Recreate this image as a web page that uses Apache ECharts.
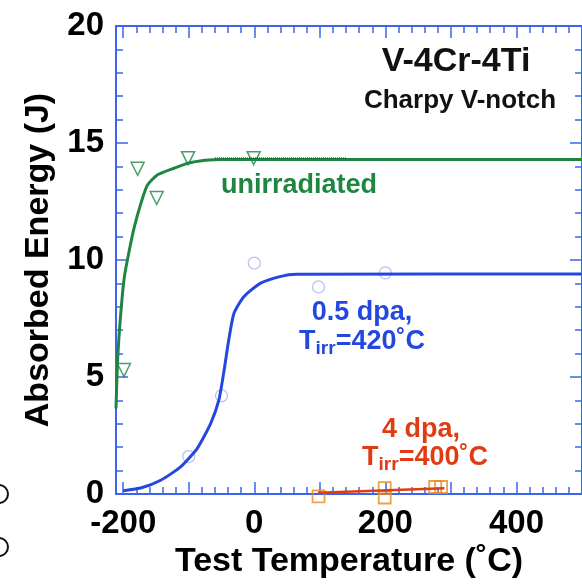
<!DOCTYPE html>
<html>
<head>
<meta charset="utf-8">
<script src="https://cdn.jsdelivr.net/npm/echarts@6/dist/echarts.min.js"></script>
<style>
  html, body { margin: 0; padding: 0; background: #fff; }
  #chart { width: 582px; height: 584px; }
</style>
</head>
<body>
<div id="chart"></div>
<script>
// unirradiated: fitted curve + measured points
const unirrCurve = [
  [-211, 3.66], [-208.3, 5.87], [-203.3, 7.86], [-198.2, 9.29], [-190.6, 10.43],
  [-183, 11.42], [-173, 12.42], [-163, 13.2], [-148, 13.63], [-122.5, 13.92],
  [-102, 14.13], [-75, 14.26], [-50, 14.3], [500, 14.3]
]
const unirrPts = [[-199, 5.3], [-178, 13.9], [-149, 12.65], [-101, 14.35], [-1, 14.35]]

// 0.5 dpa, Tirr = 420 C
const dpa05Curve = [
  [-200, 0.14], [-172, 0.27], [-142, 0.6], [-112, 1.17], [-87, 1.95], [-66.5, 3.02],
  [-54, 4.02], [-46, 5.3], [-39, 6.58], [-31, 7.72], [-16, 8.43], [9, 9.0],
  [39, 9.29], [64, 9.39], [500, 9.4]
]
const dpa05Pts = [[-100, 1.6], [-50, 4.2], [0, 9.87], [98, 8.85], [200, 9.45]]

// 4 dpa, Tirr = 400 C
const dpa4Line = [[97, 0.05], [290, 0.25]]
const dpa4Pts = [[98, -0.1], [199, 0.25], [199, -0.15], [276, 0.3], [285, 0.3]]

const dottedPart = [[-60, 14.36], [140, 14.36]]

const xLabels = [-200, 0, 200, 400]
const xMajorTicks = [-200, -100, 0, 100, 200, 300, 400, 500]
const xMinorTicks = []
for (let v = -200; v <= 500; v += 20) xMinorTicks.push(v)

const AXIS_BLUE = '#3c64f0'
const GREEN = '#1e8640'
const BLUE = '#2447e0'
const RED = '#e03c14'
const ORANGE = '#e8891c'
const FONT = 'Liberation Sans, Arial, Helvetica, sans-serif'

const chart = echarts.init(document.getElementById('chart'))

const xBase = { type: 'value', min: -211, max: 500, splitLine: { show: false } }
const spine = { show: true, onZero: false, lineStyle: { color: AXIS_BLUE, width: 2 } }
const noSpine = { show: false, onZero: false }
const xAxes = [
  {
    ...xBase, position: 'bottom',
    axisLine: spine,
    axisTick: { inside: true, length: 12, customValues: xMajorTicks, lineStyle: { color: AXIS_BLUE, width: 1.5 } },
    axisLabel: { customValues: xLabels, color: '#000', fontSize: 33, fontWeight: 'bold', fontFamily: FONT, margin: 13 },
    name: 'Test Temperature (˚C)', nameLocation: 'middle', nameGap: 47,
    nameTextStyle: { color: '#000', fontSize: 34, fontWeight: 'bold', fontFamily: FONT }
  },
  {
    ...xBase, position: 'bottom',
    axisLine: noSpine,
    axisTick: { inside: true, length: 7, customValues: xMinorTicks, lineStyle: { color: AXIS_BLUE, width: 1.5 } },
    axisLabel: { show: false }
  },
  {
    ...xBase, position: 'top',
    axisLine: spine,
    axisTick: { inside: true, length: 12, customValues: xMajorTicks, lineStyle: { color: AXIS_BLUE, width: 1.5 } },
    axisLabel: { show: false }
  },
  {
    ...xBase, position: 'top',
    axisLine: noSpine,
    axisTick: { inside: true, length: 7, customValues: xMinorTicks, lineStyle: { color: AXIS_BLUE, width: 1.5 } },
    axisLabel: { show: false }
  }
]

const yBase = {
  type: 'value', min: 0, max: 20, interval: 5,
  splitLine: { show: false },
  axisLine: spine,
  axisTick: { inside: true, length: 12, lineStyle: { color: AXIS_BLUE, width: 1.5 } },
  minorTick: { show: true, splitNumber: 5, length: 7, lineStyle: { color: AXIS_BLUE, width: 1.5 } }
}
const yAxes = [
  {
    ...yBase, position: 'left',
    axisLabel: { color: '#000', fontSize: 33, fontWeight: 'bold', fontFamily: FONT, margin: 12 },
    name: 'Absorbed Energy (J)', nameLocation: 'middle', nameGap: 60,
    nameTextStyle: { color: '#000', fontSize: 34, fontWeight: 'bold', fontFamily: FONT }
  },
  { ...yBase, position: 'right', axisLabel: { show: false } }
]

const hollow = (c, w) => ({ color: 'rgba(0,0,0,0)', borderColor: c, borderWidth: w })

const option = {
  backgroundColor: '#fff',
  animation: false,
  grid: { left: 116, right: -4, top: 26, bottom: 90 },
  xAxis: xAxes,
  yAxis: yAxes,
  series: [
    {
      type: 'line', data: unirrCurve, smooth: 0.2, symbol: 'none',
      lineStyle: { color: GREEN, width: 3 }
    },
    {
      type: 'line', data: dottedPart, symbol: 'none',
      lineStyle: { color: '#222', width: 1, type: 'dotted' }
    },
    {
      type: 'scatter', data: unirrPts, symbol: 'triangle', symbolRotate: 180, symbolSize: 13,
      itemStyle: hollow(GREEN, 1.5)
    },
    {
      type: 'line', data: dpa05Curve, smooth: 0.2, symbol: 'none',
      lineStyle: { color: BLUE, width: 3 }
    },
    {
      type: 'scatter', data: dpa05Pts, symbol: 'circle', symbolSize: 12,
      itemStyle: hollow('#a9b1f2', 1.3)
    },
    {
      type: 'line', data: dpa4Line, symbol: 'none',
      lineStyle: { color: RED, width: 2.5 }
    },
    {
      type: 'scatter', data: dpa4Pts, symbol: 'rect', symbolSize: 12, clip: false,
      itemStyle: hollow(ORANGE, 1.8)
    }
  ],
  graphic: [
    { type: 'text', style: { text: 'V-4Cr-4Ti', x: 456, y: 62, align: 'center', verticalAlign: 'middle', fill: '#111', font: 'bold 34px ' + FONT } },
    { type: 'text', style: { text: 'Charpy V-notch', x: 460, y: 101, align: 'center', verticalAlign: 'middle', fill: '#111', font: 'bold 26px ' + FONT } },
    { type: 'text', style: { text: 'unirradiated', x: 299, y: 186, align: 'center', verticalAlign: 'middle', fill: GREEN, font: 'bold 27px ' + FONT } },
    { type: 'text', style: { text: '0.5 dpa,', x: 362, y: 313, align: 'center', verticalAlign: 'middle', fill: BLUE, font: 'bold 27px ' + FONT } },
    {
      type: 'text', style: {
        text: '{m|T}{s|irr}{m|=420˚C}', x: 362, y: 342, align: 'center', verticalAlign: 'middle', fill: BLUE,
        rich: {
          m: { fontSize: 27, fontWeight: 'bold', fontFamily: FONT, fill: BLUE },
          s: { fontSize: 19, fontWeight: 'bold', fontFamily: FONT, fill: BLUE, padding: [14, 0, 0, 0] }
        }
      }
    },
    { type: 'text', style: { text: '4 dpa,', x: 421, y: 430, align: 'center', verticalAlign: 'middle', fill: RED, font: 'bold 27px ' + FONT } },
    {
      type: 'text', style: {
        text: '{m|T}{s|irr}{m|=400˚C}', x: 425, y: 458, align: 'center', verticalAlign: 'middle', fill: RED,
        rich: {
          m: { fontSize: 27, fontWeight: 'bold', fontFamily: FONT, fill: RED },
          s: { fontSize: 19, fontWeight: 'bold', fontFamily: FONT, fill: RED, padding: [14, 0, 0, 0] }
        }
      }
    },
    { type: 'circle', shape: { cx: -1, cy: 494, r: 9 }, style: { fill: 'none', stroke: '#111', lineWidth: 2 } },
    { type: 'circle', shape: { cx: -1, cy: 547, r: 9 }, style: { fill: 'none', stroke: '#111', lineWidth: 2 } }
  ]
}

chart.setOption(option)

window.addEventListener('resize', () => {
  chart?.resize()
})
</script>
</body>
</html>
